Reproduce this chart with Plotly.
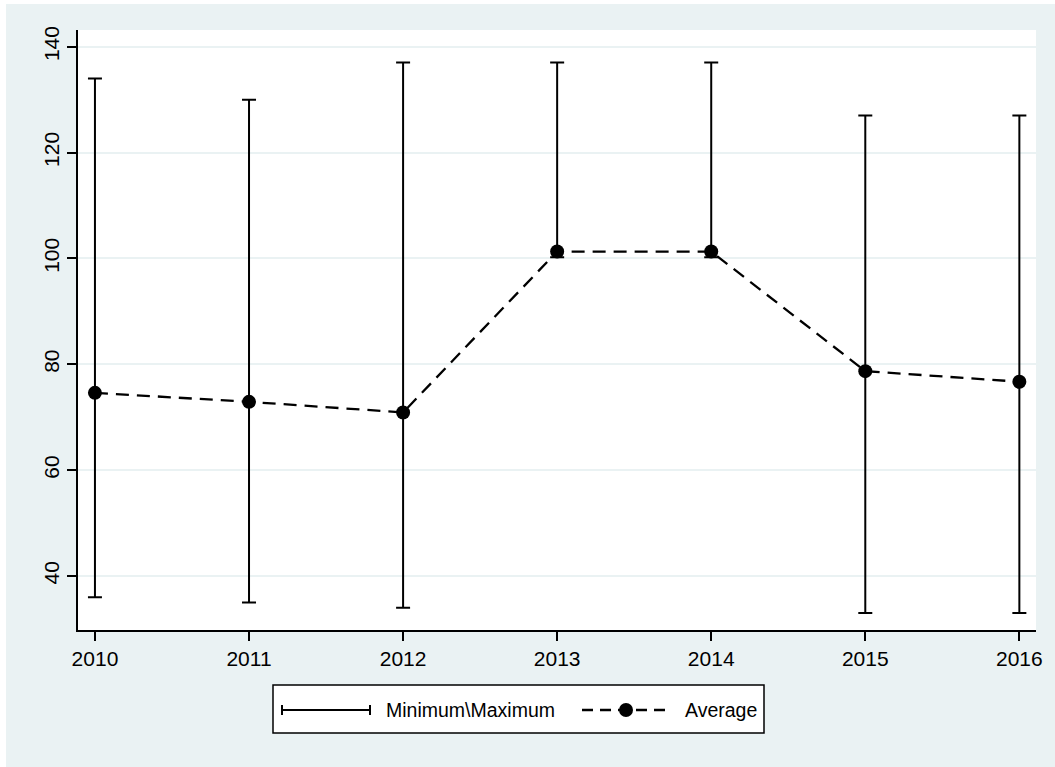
import plotly.graph_objects as go

# Yearly summary values
years = [2010, 2011, 2012, 2013, 2014, 2015, 2016]
maximum = [134, 130, 137, 137, 137, 127, 127]
minimum = [36, 35, 34, 100.2, 100.2, 33, 33]
average = [74.6, 72.9, 70.9, 101.3, 101.3, 78.7, 76.7]
y_ticks = [40, 60, 80, 100, 120, 140]

BG = "#eaf2f3"
FONT = "Liberation Sans, Arial, sans-serif"
DASH = "13px,8px"

W, H = 1055, 767
L, R, T, B = 78, 19, 30, 137
PW, PH = W - L - R, H - T - B


def px_x(px):
    return (px - L) / PW


def px_y(py):
    return (H - B - py) / PH


mid = [(lo + hi) / 2 for lo, hi in zip(minimum, maximum)]

fig = go.Figure()

# Min/max range caps
fig.add_trace(go.Scatter(
    x=years, y=mid, mode="markers",
    marker=dict(size=1, opacity=0),
    error_y=dict(
        type="data", symmetric=False,
        array=[hi - m for hi, m in zip(maximum, mid)],
        arrayminus=[m - lo for lo, m in zip(minimum, mid)],
        color="black", thickness=2, width=7,
    ),
    showlegend=False, hoverinfo="skip",
))

# Average line
fig.add_trace(go.Scatter(
    x=years, y=average, mode="lines+markers",
    line=dict(color="black", width=2.3, dash=DASH),
    marker=dict(color="black", size=14),
    showlegend=False,
))

shapes = []
# white margin strips around the graph region
shapes.append(dict(type="rect", xref="paper", yref="paper",
                   x0=px_x(0), x1=px_x(W), y0=px_y(0), y1=px_y(4),
                   fillcolor="white", line=dict(width=0), layer="below"))
shapes.append(dict(type="rect", xref="paper", yref="paper",
                   x0=px_x(0), x1=px_x(6), y0=px_y(0), y1=px_y(H),
                   fillcolor="white", line=dict(width=0), layer="below"))

# legend box
ly = 710
shapes.append(dict(type="rect", xref="paper", yref="paper",
                   x0=px_x(273), x1=px_x(764), y0=px_y(685), y1=px_y(733),
                   fillcolor="white", line=dict(color="black", width=1.5)))
# range key
shapes.append(dict(type="line", xref="paper", yref="paper",
                   x0=px_x(282), x1=px_x(370), y0=px_y(ly), y1=px_y(ly),
                   line=dict(color="black", width=2)))
for cx in (282, 370):
    shapes.append(dict(type="line", xref="paper", yref="paper",
                       x0=px_x(cx), x1=px_x(cx), y0=px_y(ly - 5), y1=px_y(ly + 5),
                       line=dict(color="black", width=2)))
# average key
shapes.append(dict(type="line", xref="paper", yref="paper",
                   x0=px_x(582), x1=px_x(669), y0=px_y(ly), y1=px_y(ly),
                   line=dict(color="black", width=2.3, dash="11px,7px")))
shapes.append(dict(type="circle", xref="paper", yref="paper",
                   x0=px_x(619), x1=px_x(633), y0=px_y(ly + 7), y1=px_y(ly - 7),
                   fillcolor="black", line=dict(color="black", width=0)))

annotations = [
    dict(text="Minimum\\Maximum", xref="paper", yref="paper",
         x=px_x(384), y=px_y(ly), xanchor="left", yanchor="middle",
         showarrow=False, font=dict(family=FONT, size=19.5, color="black")),
    dict(text="Average", xref="paper", yref="paper",
         x=px_x(683), y=px_y(ly), xanchor="left", yanchor="middle",
         showarrow=False, font=dict(family=FONT, size=19.5, color="black")),
]

fig.update_layout(
    width=W, height=H,
    margin=dict(l=L, r=R, t=T, b=B, pad=0),
    paper_bgcolor=BG, plot_bgcolor="white",
    font=dict(family=FONT, size=20, color="black"),
    shapes=shapes, annotations=annotations,
    showlegend=False,
)

fig.update_xaxes(
    range=[2009.89, 2016.108], tickvals=years, ticktext=[str(y) for y in years],
    showgrid=False, zeroline=False, showline=True, linecolor="black", linewidth=2,
    ticks="outside", ticklen=9, tickwidth=2, tickcolor="black",
    tickfont=dict(family=FONT, size=21, color="black"),
)
fig.update_yaxes(
    range=[29.79, 143.16], tickvals=y_ticks, tickangle=-90,
    showgrid=True, gridcolor=BG, gridwidth=2, zeroline=False,
    showline=True, linecolor="black", linewidth=2,
    ticks="outside", ticklen=9, tickwidth=2, tickcolor="black",
    tickfont=dict(family=FONT, size=21, color="black"),
)

fig.write_html(
    "out.html",
    post_script="document.body.style.margin='0';document.body.style.background='%s';" % BG,
)
